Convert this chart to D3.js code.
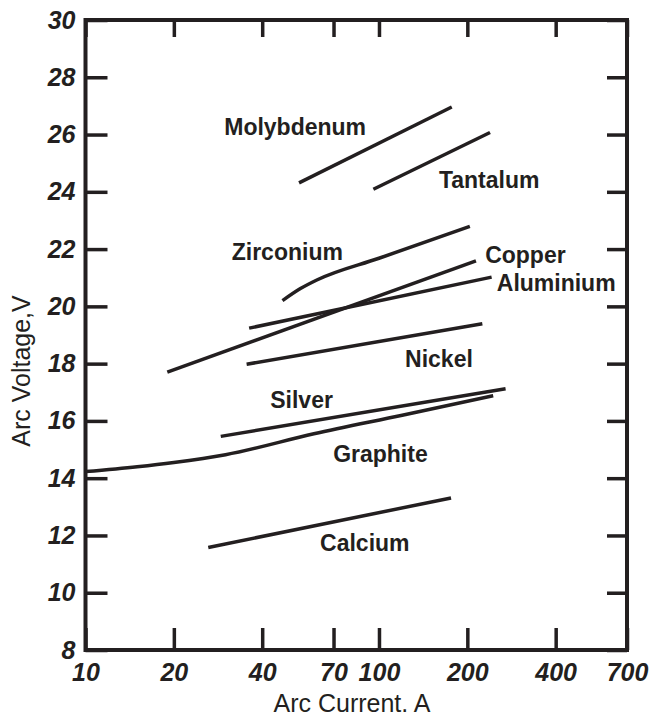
<!DOCTYPE html>
<html>
<head>
<meta charset="utf-8">
<script src="https://cdn.jsdelivr.net/npm/d3@7"></script>
<style>
  html, body { margin: 0; padding: 0; background: #fff; }
  svg { display: block; }
</style>
</head>
<body>
<script>
// Arc voltage vs arc current for various electrode materials (log current axis)
const xTicks = [10, 20, 40, 70, 100, 200, 400, 700];
const yTicks = [8, 10, 12, 14, 16, 18, 20, 22, 24, 26, 28, 30];

const molybdenum = [[53.4, 24.31], [177, 26.96]];
const tantalum   = [[95.7, 24.09], [239, 26.07]];
const zirconium  = [[46.9, 20.2], [54, 20.62], [61.4, 20.92], [100, 21.68], [204, 22.79]];
const copper     = [[19.0, 17.7], [214, 21.59]];
const aluminium  = [[36.1, 19.24], [242, 21.02]];
const nickel     = [[35.4, 17.98], [225, 19.39]];
const silver     = [[28.9, 15.46], [270, 17.12]];
const graphite   = [[10, 14.23], [15, 14.4], [20, 14.55], [30, 14.82], [60, 15.55], [120, 16.2], [245, 16.88]];
const calcium    = [[26.2, 11.58], [176, 13.31]];

const seriesNames = ["Molybdenum", "Tantalum", "Zirconium", "Copper", "Aluminium", "Nickel", "Silver", "Graphite", "Calcium"];
const seriesData = [molybdenum, tantalum, zirconium, copper, aluminium, nickel, silver, graphite, calcium];
// label anchor for each curve, in data units (current, voltage)
const labelAt = [[29.7, 26.0], [160, 24.14], [31.5, 21.62], [230, 21.53], [252, 20.54], [122.7, 17.9], [42.6, 16.46], [69.8, 14.55], [63, 11.44]];

const W = 651, H = 716;
const plotLeft = 85.5, plotRight = 627, plotTop = 20, plotBottom = 650;

const svg = d3.select("body").append("svg").attr("width", W).attr("height", H);

const x = d3.scaleLog().domain([10, 700]).range([plotLeft, plotRight]);
const y = d3.scaleLinear().domain([8, 30]).range([plotBottom, plotTop]);

const fontFamily = "'Liberation Sans', Arial, Helvetica, sans-serif";
const ink = "#231f20";

function styleAxis(g) {
  g.select(".domain").remove();
  g.selectAll(".tick line").attr("stroke", ink).attr("stroke-width", 3.5);
  g.selectAll(".tick text")
    .attr("fill", ink)
    .style("font-family", fontFamily)
    .style("font-size", "25px")
    .style("font-weight", "bold")
    .style("font-style", "italic");
}

// bottom axis with labels
svg.append("g")
  .attr("transform", `translate(0,${plotBottom})`)
  .call(d3.axisBottom(x).tickValues(xTicks).tickFormat(d3.format("d")).tickSize(-22).tickPadding(13))
  .call(styleAxis)
  .call(g => g.selectAll(".tick text").attr("dy", "0.71em"));

// top axis ticks only
svg.append("g")
  .attr("transform", `translate(0,${plotTop})`)
  .call(d3.axisTop(x).tickValues(xTicks).tickFormat("").tickSize(-17))
  .call(styleAxis);

// left axis with labels
svg.append("g")
  .attr("transform", `translate(${plotLeft},0)`)
  .call(d3.axisLeft(y).tickValues(yTicks).tickFormat(d3.format("d")).tickSize(-22).tickPadding(10))
  .call(styleAxis);

// right axis ticks only
svg.append("g")
  .attr("transform", `translate(${plotRight},0)`)
  .call(d3.axisRight(y).tickValues(yTicks).tickFormat("").tickSize(-20))
  .call(styleAxis);

// plot frame
svg.append("rect")
  .attr("x", plotLeft).attr("y", plotTop)
  .attr("width", plotRight - plotLeft).attr("height", plotBottom - plotTop)
  .attr("fill", "none").attr("stroke", ink).attr("stroke-width", 4);

// curves
const line = d3.line()
  .x(d => x(d[0]))
  .y(d => y(d[1]))
  .curve(d3.curveMonotoneX);

svg.append("g")
  .selectAll("path")
  .data(seriesData)
  .join("path")
  .attr("d", line)
  .attr("fill", "none")
  .attr("stroke", ink)
  .attr("stroke-width", 3.5);

// curve labels
svg.append("g")
  .selectAll("text")
  .data(seriesNames)
  .join("text")
  .attr("x", (d, i) => x(labelAt[i][0]))
  .attr("y", (d, i) => y(labelAt[i][1]))
  .attr("fill", ink)
  .style("font-family", fontFamily)
  .style("font-size", "23px")
  .style("font-weight", "bold")
  .text(d => d);

// axis titles
svg.append("text")
  .attr("x", 352).attr("y", 712)
  .attr("text-anchor", "middle")
  .attr("fill", ink)
  .style("font-family", fontFamily)
  .style("font-size", "25px")
  .text("Arc Current. A");

svg.append("text")
  .attr("transform", "translate(30,371) rotate(-90)")
  .attr("text-anchor", "middle")
  .attr("fill", ink)
  .style("font-family", fontFamily)
  .style("font-size", "25px")
  .text("Arc Voltage,V");
</script>
</body>
</html>
